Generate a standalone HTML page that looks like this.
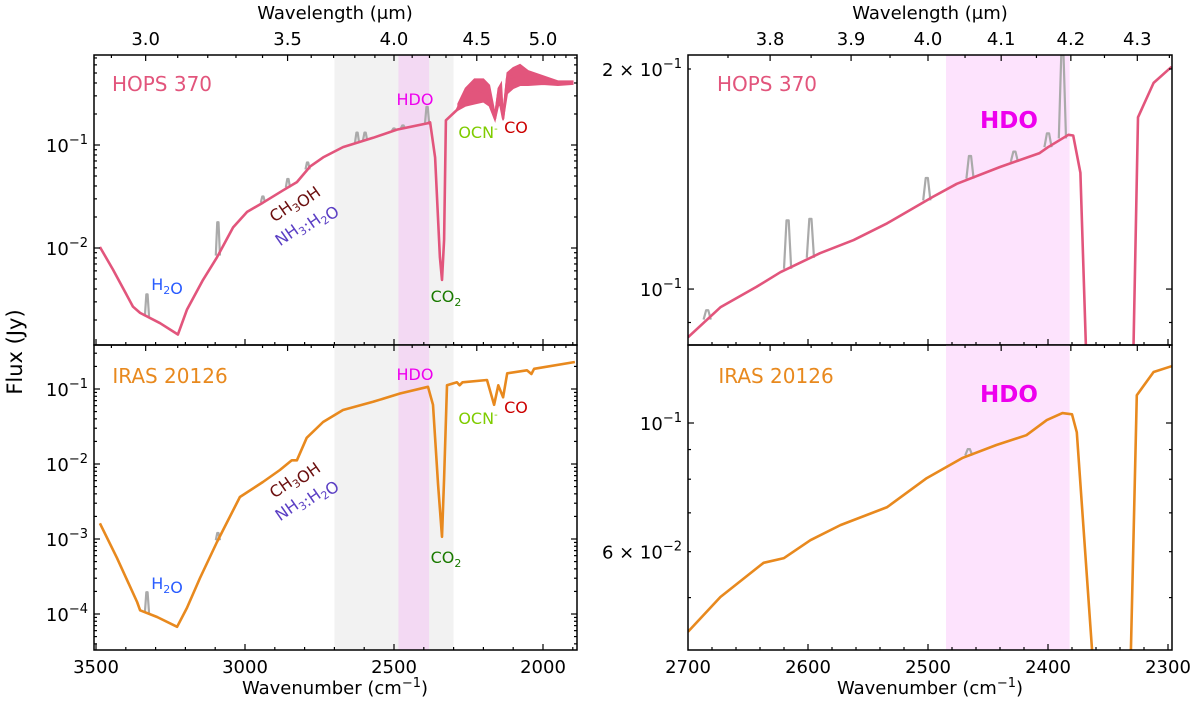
<!DOCTYPE html>
<html><head><meta charset="utf-8"><style>
html,body{margin:0;padding:0;background:#fff;overflow:hidden;width:1200px;height:702px;}
svg{display:block;font-family:"DejaVu Sans","Liberation Sans",sans-serif;overflow:hidden;}
</style></head><body>
<svg id="fig" width="1200" height="702" viewBox="0 0 1200 702" xmlns="http://www.w3.org/2000/svg"></svg>
<script>
// ---------- DATA (log10 flux in Jy) ----------
const hopsWnL = [3487,3443,3376,3352,3285,3225,3195,3141,3094,3040,2993,2940,2872,2826,2782,2738,2671,2570,2490,2389,2379,2362,2346,2339,2332,2326,2289,2270,2230,2190,2161,2150,2134,2120,2077,2000,1950,1899];
const hopsLogL = [-1.99,-2.21,-2.57,-2.63,-2.73,-2.84,-2.60,-2.31,-2.09,-1.80,-1.65,-1.56,-1.44,-1.36,-1.21,-1.12,-1.02,-0.93,-0.85,-0.79,-0.78,-1.12,-2.09,-2.31,-1.92,-0.76,-0.66,-0.55,-0.45,-0.50,-0.74,-0.50,-0.74,-0.35,-0.32,-0.38,-0.41,-0.40];
const hopsBandWn = [2285,2260,2230,2200,2180,2161,2150,2140,2134,2120,2100,2077,2050,2000,1950,1900];
const hopsBandUp = [-0.60,-0.45,-0.36,-0.36,-0.42,-0.70,-0.45,-0.40,-0.70,-0.30,-0.25,-0.22,-0.28,-0.33,-0.38,-0.38];
const hopsBandLo = [-0.66,-0.62,-0.60,-0.58,-0.62,-0.76,-0.62,-0.60,-0.76,-0.50,-0.45,-0.42,-0.42,-0.41,-0.42,-0.41];
const hopsSpikeWnL = [3329,3091,2856,2940,2790,2624,2597,2500,2470,2389];
const hopsSpikeLogL = [-2.45,-1.75,-1.33,-1.50,-1.17,-0.88,-0.88,-0.84,-0.81,-0.63];

const irasWnL = [3487,3430,3362,3352,3295,3228,3195,3151,3094,3017,2940,2883,2843,2826,2793,2738,2671,2570,2480,2386,2369,2352,2339,2332,2322,2289,2280,2270,2188,2164,2150,2134,2120,2054,2039,2030,1893];
const irasLogL = [-2.79,-3.25,-3.84,-3.95,-4.04,-4.17,-3.92,-3.52,-3.04,-2.44,-2.24,-2.08,-1.95,-1.95,-1.65,-1.44,-1.28,-1.17,-1.06,-0.97,-1.21,-2.28,-2.97,-2.19,-0.95,-0.91,-0.95,-0.91,-0.88,-1.21,-0.95,-1.11,-0.79,-0.75,-0.80,-0.73,-0.64];
const irasSpikeWnL = [3329,3091];
const irasSpikeLogL = [-3.71,-2.92];

const hopsWnR = [2700,2673,2643,2623,2590,2562,2534,2496,2476,2440,2407,2400,2383,2379,2373,2368,2360,2337,2329,2325,2312,2297];
const hopsLogR = [-1.066,-1.025,-0.997,-0.977,-0.951,-0.933,-0.910,-0.874,-0.856,-0.833,-0.814,-0.806,-0.789,-0.790,-0.841,-1.10,-1.40,-1.40,-1.10,-0.765,-0.718,-0.696];
const hopsSpikeWnR = [2684,2617,2598,2501,2465,2428,2400,2388];
const hopsSpikeLogR = [-1.029,-0.906,-0.904,-0.848,-0.818,-0.812,-0.787,-0.677];

const irasWnR = [2700,2673,2637,2620,2598,2573,2534,2501,2471,2443,2418,2401,2388,2380,2376,2363,2355,2337,2331,2326,2312,2297];
const irasLogR = [-1.360,-1.300,-1.241,-1.233,-1.202,-1.176,-1.145,-1.095,-1.060,-1.038,-1.021,-0.995,-0.983,-0.985,-1.016,-1.40,-1.55,-1.55,-1.40,-0.952,-0.912,-0.902];
const irasSpikeWnR = [2466];
const irasSpikeLogR = [-1.045];

const wnTicksL = [3500,3000,2500,2000];
const wnTicksR = [2700,2600,2500,2400,2300];
const lamTicksL = ["3.0","3.5","4.0","4.5","5.0"];
const lamTicksR = ["3.8","3.9","4.0","4.1","4.2","4.3"];

// ---------- SCALES ----------
const PL={x0:94,x1:577}, PR={x0:688,x1:1172};
const TOP={y0:55,y1:345}, BOT={y0:345,y1:650};
const xL=wn=>245+(3000-wn)*0.298;
const xR=wn=>688+(2700-wn)*1.2;
const yTL=l=>145+(-1-l)*103;
const yBL=l=>389+(-1-l)*75;
const yTR=l=>69+(Math.log10(0.2)-l)*731;
const yBR=l=>423+(-1-l)*580;

const NS="http://www.w3.org/2000/svg";
const svg=document.getElementById('fig');
function mk(tag,attrs,parent){const e=document.createElementNS(NS,tag);for(const k in attrs)e.setAttribute(k,attrs[k]);(parent||svg).appendChild(e);return e;}
function interp(xs,ys,x){for(let i=0;i<xs.length-1;i++){const a=xs[i],b=xs[i+1];if((x<=a&&x>=b)||(x>=a&&x<=b)){const t=(x-a)/(b-a);return ys[i]+t*(ys[i+1]-ys[i]);}}return ys[ys.length-1];}

const defs=mk('defs',{});
[['cTL',PL,TOP],['cBL',PL,BOT],['cTR',PR,TOP],['cBR',PR,BOT]].forEach(([id,P,Y])=>{const c=mk('clipPath',{id:id},defs);mk('rect',{x:P.x0,y:Y.y0,width:P.x1-P.x0,height:Y.y1-Y.y0},c);});

function panel(name,P,Y,xf,yf,clip,opts){
  const g=mk('g',{'clip-path':'url(#'+clip+')'});
  
  
  if(opts.gray){const r=mk('rect',{x:xf(2700),y:Y.y0,width:xf(2300)-xf(2700),height:Y.y1-Y.y0,fill:'#f2f2f2'},g);
    }
  const h=mk('rect',{x:xf(2485),y:Y.y0,width:xf(2382)-xf(2485),height:Y.y1-Y.y0,fill:opts.pink},g);
  
  const sw=opts.spikeW;
  opts.sWn.forEach((w,i)=>{const base=interp(opts.wn,opts.lg,w);
    const p=mk('path',{d:`M${xf(w+sw)},${yf(base)}L${xf(w+sw*0.3)},${yf(opts.sLg[i])}L${xf(w-sw*0.3)},${yf(opts.sLg[i])}L${xf(w-sw)},${yf(base)}`,fill:'none',stroke:'#aaaaaa','stroke-width':2.2,'stroke-linejoin':'round'},g);
    });
  if(opts.bandWn){let d='';opts.bandWn.forEach((w,i)=>{d+=(i?'L':'M')+xf(w)+','+yf(opts.bandUp[i]);});
    for(let i=opts.bandWn.length-1;i>=0;i--)d+='L'+xf(opts.bandWn[i])+','+yf(opts.bandLo[i]);
    const b=mk('path',{d:d+'Z',fill:opts.color,stroke:opts.color,'stroke-width':1.5},g);
    }
  const d=opts.wn.map((w,i)=>(i?'L':'M')+xf(w).toFixed(1)+','+yf(opts.lg[i]).toFixed(1)).join('');
  const l=mk('path',{d:d,fill:'none',stroke:opts.color,'stroke-width':2.6,'stroke-linejoin':'round'},g);
  
  const f=mk('rect',{x:P.x0,y:Y.y0,width:P.x1-P.x0,height:Y.y1-Y.y0,fill:'none',stroke:'#000','stroke-width':1.5});
  
}

const PINK='#e2557c', ORANGE='#e8891e';
panel('hops-full-panel',PL,TOP,xL,yTL,'cTL',{gray:true,pink:'#f3d9f3',wn:hopsWnL,lg:hopsLogL,sWn:hopsSpikeWnL,sLg:hopsSpikeLogL,spikeW:7,color:PINK,bandWn:hopsBandWn,bandUp:hopsBandUp,bandLo:hopsBandLo,lineName:'hops370-spectrum'});
panel('iras-full-panel',PL,BOT,xL,yBL,'cBL',{gray:true,pink:'#f3d9f3',wn:irasWnL,lg:irasLogL,sWn:irasSpikeWnL,sLg:irasSpikeLogL,spikeW:7,color:ORANGE,lineName:'iras20126-spectrum'});
panel('hops-zoom-panel',PR,TOP,xR,yTR,'cTR',{gray:false,pink:'#fde3fd',wn:hopsWnR,lg:hopsLogR,sWn:hopsSpikeWnR,sLg:hopsSpikeLogR,spikeW:3,color:PINK,lineName:'hops370-zoom-spectrum'});
panel('iras-zoom-panel',PR,BOT,xR,yBR,'cBR',{gray:false,pink:'#fde3fd',wn:irasWnR,lg:irasLogR,sWn:irasSpikeWnR,sLg:irasSpikeLogR,spikeW:3,color:ORANGE,lineName:'iras20126-zoom-spectrum'});

// ---------- TICKS ----------
const FS=18;
function tick(x1,y1,x2,y2){mk('line',{x1,y1,x2,y2,stroke:'#000','stroke-width':1.2});}
function txt(s,x,y,attrs,name){const t=mk('text',Object.assign({x,y,'font-size':FS,fill:'#000'},attrs||{}));t.textContent=s;return t;}
function supTxt(base,sup,x,y,anchor,name){const t=mk('text',{x,y,'font-size':FS,'text-anchor':anchor||'end',fill:'#000'});
  
  const a=mk('tspan',{},t);a.textContent=base;const b=mk('tspan',{dy:-8,'font-size':13},t);b.textContent=sup;return t;}

function wnTicks(P,xf,majors,minStep,Ys,labelY){
  for(let w=4000;w>=1800;w-=minStep){const x=xf(w);if(x<P.x0+0.5||x>P.x1-0.5)continue;
    const maj=majors.includes(w);const L=maj?6:3;
    Ys.forEach(([y,dir])=>tick(x,y,x,y+dir*L));}
  if(labelY)majors.forEach(w=>{const x=xf(w);txt(String(w),x,labelY,{'text-anchor':'middle'},'x-tick-label');});
}
wnTicks(PL,xL,wnTicksL,100,[[TOP.y1,-1],[BOT.y1,-1]],673);
wnTicks(PR,xR,wnTicksR,20,[[TOP.y1,-1],[BOT.y1,-1]],673);
function lamTicks(P,xf,labels,Ys,labelY,minStep){
  for(let l=2.8;l<=5.4;l+=minStep){const lam=Math.round(l*100)/100;const x=xf(1e4/lam);if(x<P.x0+0.5||x>P.x1-0.5)continue;
    const maj=labels.includes(lam.toFixed(1))&&Math.abs(lam*10-Math.round(lam*10))<1e-6;const L=maj?6:3;
    Ys.forEach(([y,dir])=>tick(x,y,x,y+dir*L));}
  labels.forEach(s=>{const x=xf(1e4/parseFloat(s));txt(s,x,labelY,{'text-anchor':'middle'},'top-tick-label');});
}
lamTicks(PL,xL,lamTicksL,[[TOP.y0,1],[BOT.y0,1]],45,0.1);
lamTicks(PR,xR,lamTicksR,[[TOP.y0,1],[BOT.y0,1]],45,0.05);

function logTicks(P,Y,yf,decades,labelDec){
  decades.forEach(d=>{for(let k=1;k<10;k++){const lg=d+Math.log10(k);const y=yf(lg);if(y<Y.y0+0.5||y>Y.y1-0.5)continue;
    tick(P.x0,y,P.x0+(k===1?6:3),y);tick(P.x1,y,P.x1-(k===1?6:3),y);}});
  labelDec.forEach(d=>{const y=yf(d);if(y>Y.y0&&y<Y.y1)supTxt('10','−'+Math.abs(d),P.x0-6,y+7,'end');});
}
logTicks(PL,TOP,yTL,[-3,-2,-1],[-2,-1]);
logTicks(PL,BOT,yBL,[-5,-4,-3,-2,-1],[-4,-3,-2,-1]);
logTicks(PR,TOP,yTR,[-2,-1],[-1]);
logTicks(PR,BOT,yBR,[-2,-1],[-1]);
supTxt('2 × 10','−1',PR.x0-6,yTR(Math.log10(0.2))+7,'end');
supTxt('6 × 10','−2',PR.x0-6,yBR(Math.log10(0.06))+7,'end');

txt('Wavelength (μm)',335,19,{'text-anchor':'middle'},'top-x-axis-title');
txt('Wavelength (μm)',930,19,{'text-anchor':'middle'},'top-x-axis-title-right');
const w1=mk('text',{x:335,y:694,'font-size':FS,'text-anchor':'middle'});
w1.innerHTML='Wavenumber (cm<tspan dy="-7" font-size="13">−1</tspan><tspan dy="7">)</tspan>';
const w2=mk('text',{x:930,y:694,'font-size':FS,'text-anchor':'middle'});
w2.innerHTML='Wavenumber (cm<tspan dy="-7" font-size="13">−1</tspan><tspan dy="7">)</tspan>';
txt('Flux (Jy)',0,0,{'text-anchor':'middle','font-size':21,transform:'translate(22,352) rotate(-90)'},'y-axis-title');

// ---------- ANNOTATIONS ----------
function ann(html,x,y,color,size,name,extra){const t=mk('text',Object.assign({x,y,'font-size':size,fill:color,'text-anchor':'middle'},extra||{}));t.innerHTML=html;return t;}
const sub=s=>`<tspan dy="4" font-size="11">${s}</tspan><tspan dy="-4"></tspan>`;
ann('HOPS 370',162,91,PINK,20,'panel-label-hops');
ann('IRAS 20126',170,383,ORANGE,20,'panel-label-iras');
ann('HOPS 370',767,91,PINK,20,'panel-label-hops-zoom');
ann('IRAS 20126',776,383,ORANGE,20,'panel-label-iras-zoom');
ann('HDO',1009,128,'#ee00ee',23,'hdo-label-zoom',{'font-weight':'bold'});
ann('HDO',1009,402,'#ee00ee',23,'hdo-label-zoom-iras',{'font-weight':'bold'});
[0,1].forEach(row=>{
  const Y=row?{hdo:380,co2:563,ocn:424,co:413,h2o:589,ch:483,nh:502}:{hdo:105,co2:302,ocn:138,co:133,h2o:290,ch:207,nh:227};
  ann('HDO',415,Y.hdo,'#ee00ee',16,'hdo-label');
  ann('CO'+sub('2'),446,Y.co2,'#1a7a00',16,'co2-label');
  ann('OCN<tspan dy="-6" font-size="10">-</tspan>',478,Y.ocn,'#7fcc00',16,'ocn-label');
  ann('CO',516,Y.co,'#cc0000',16,'co-label');
  ann('H'+sub('2')+'O',167,Y.h2o,'#2a5cff',16,'h2o-label');
  ann('CH'+sub('3')+'OH',0,0,'#6b0f0f',16,'ch3oh-label',{transform:`translate(297,${Y.ch}) rotate(-35)`});
  ann('NH'+sub('3')+':H'+sub('2')+'O',0,0,'#5b3fc4',16,'nh3-h2o-label',{transform:`translate(308,${Y.nh}) rotate(-35)`});
});
</script>
</body></html>
